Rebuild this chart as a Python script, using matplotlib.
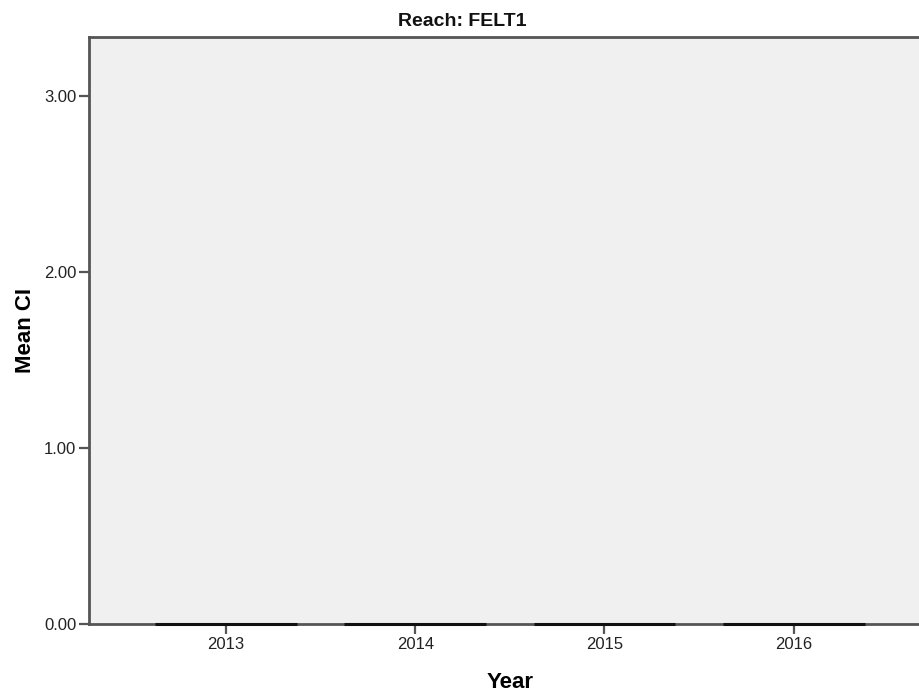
import numpy as np
import matplotlib.pyplot as plt

# --- data ---
years = ['2013', '2014', '2015', '2016']
mean_ci = [0.0, 0.0, 0.0, 0.0]
y_ticks = [0.0, 1.0, 2.0, 3.0]

plt.rcParams['font.family'] = ['Liberation Sans', 'DejaVu Sans']

fig = plt.figure(figsize=(9.2, 6.96), dpi=100)
# plot area runs past the right edge of the picture, as in the reference
ax = fig.add_axes([0.0967, 0.1034, 0.915, 0.8434])
ax.set_facecolor('#f0f0f0')

x = np.arange(len(years))
bars = ax.bar(x, mean_ci, width=0.75, color='#d3ce97', edgecolor='#111111',
              linewidth=2.2, zorder=3)
for b in bars:
    b.set_clip_on(False)

ax.set_xlim(-0.724, len(years) - 1 + 0.724)
ax.set_ylim(0, 3.335)
ax.set_xticks(x)
ax.set_xticklabels(years)
ax.set_yticks(y_ticks)
ax.set_yticklabels([f'{v:.2f}' for v in y_ticks])

for s in ax.spines.values():
    s.set_color('#555555')
    s.set_linewidth(2)
ax.tick_params(axis='both', colors='#555555', labelcolor='#222222', length=7,
               width=1.6, labelsize=12, pad=2)

ax.set_xlabel('Year', fontsize=16, fontweight='bold', labelpad=15)
ax.set_ylabel('Mean CI', fontsize=16, fontweight='bold', labelpad=6)
fig.text(0.502, 0.969, 'Reach: FELT1', ha='center', va='center', fontsize=14,
         fontweight='bold', color='#111111')

fig.savefig('out.png', dpi=100)
